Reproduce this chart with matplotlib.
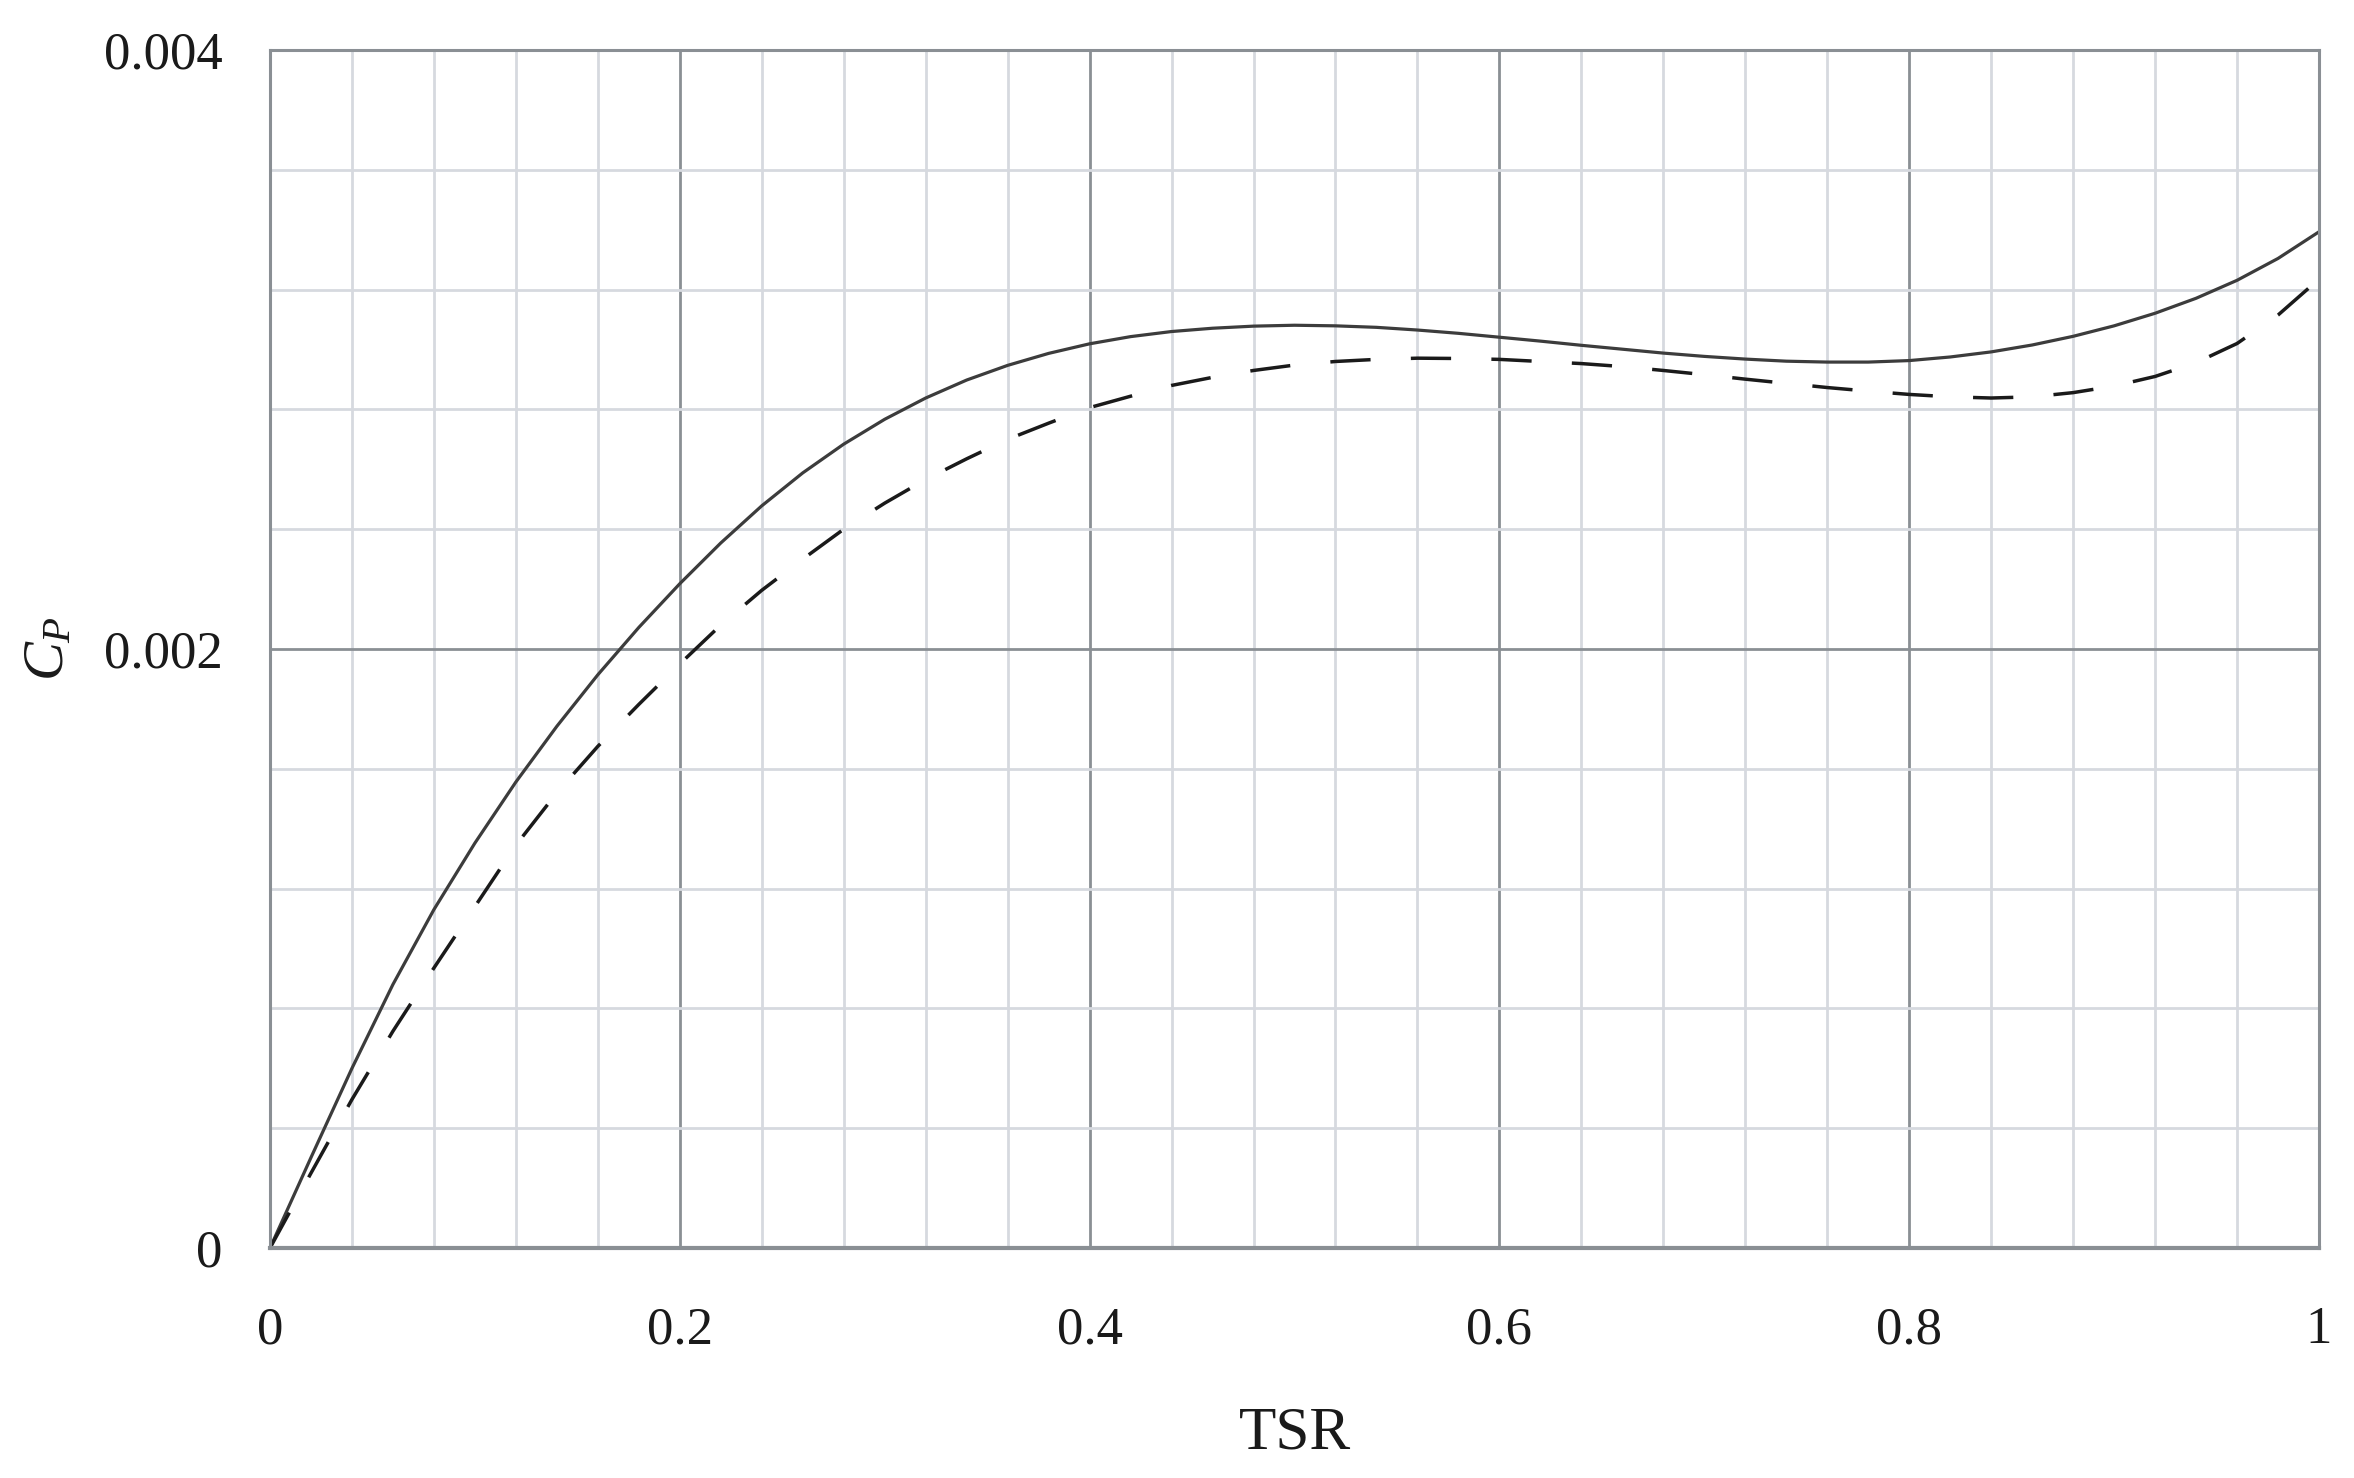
import matplotlib
matplotlib.use("Agg")
import matplotlib.pyplot as plt
from matplotlib.ticker import MultipleLocator

# ---- data ----
tsr = [0.00, 0.02, 0.04, 0.06, 0.08, 0.10, 0.12, 0.14, 0.16, 0.18,
       0.20, 0.22, 0.24, 0.26, 0.28, 0.30, 0.32, 0.34, 0.36, 0.38,
       0.40, 0.42, 0.44, 0.46, 0.48, 0.50, 0.52, 0.54, 0.56, 0.58,
       0.60, 0.62, 0.64, 0.66, 0.68, 0.70, 0.72, 0.74, 0.76, 0.78,
       0.80, 0.82, 0.84, 0.86, 0.88, 0.90, 0.92, 0.94, 0.96, 0.98, 1.00]

cp_solid = [0.0, 0.000302, 0.000600, 0.000880, 0.001130, 0.001352, 0.001556, 0.001742, 0.001914, 0.002072,
            0.002218, 0.002354, 0.002478, 0.002588, 0.002684, 0.002767, 0.002838, 0.002898, 0.002947, 0.002987,
            0.003019, 0.003043, 0.003060, 0.003071, 0.003078, 0.003081, 0.003079, 0.003074, 0.003065, 0.003054,
            0.003041, 0.003028, 0.003014, 0.003001, 0.002988, 0.002977, 0.002968, 0.002961, 0.002958, 0.002958,
            0.002963, 0.002975, 0.002992, 0.003015, 0.003044, 0.003079, 0.003121, 0.003171, 0.003231, 0.003304, 0.003393]

cp_dashed = [0.0, 0.000250, 0.000496, 0.000724, 0.000935, 0.001140, 0.001345, 0.001520, 0.001675, 0.001815,
             0.001950, 0.002080, 0.002196, 0.002300, 0.002400, 0.002487, 0.002566, 0.002635, 0.002700, 0.002754,
             0.002806, 0.002844, 0.002880, 0.002907, 0.002930, 0.002948, 0.002960, 0.002967, 0.002971, 0.002970,
             0.002967, 0.002960, 0.002953, 0.002943, 0.002930, 0.002916, 0.002901, 0.002887, 0.002873, 0.002861,
             0.002850, 0.002842, 0.002838, 0.002842, 0.002856, 0.002878, 0.002910, 0.002956, 0.003020, 0.003115, 0.003235]

x_ticks = [0, 0.2, 0.4, 0.6, 0.8, 1]
x_tick_labels = ["0", "0.2", "0.4", "0.6", "0.8", "1"]
y_ticks = [0, 0.002, 0.004]
y_tick_labels = ["0", "0.002", "0.004"]

# ---- style ----
plt.rcParams['font.family'] = ['Liberation Serif', 'DejaVu Serif']
plt.rcParams['mathtext.fontset'] = 'custom'
plt.rcParams['mathtext.rm'] = 'Liberation Serif'
plt.rcParams['mathtext.it'] = 'Liberation Serif:italic'
plt.rcParams['lines.scale_dashes'] = False

W, H = 2354, 1478
fig = plt.figure(figsize=(W / 100, H / 100), dpi=100)
L, R, T, B = 270, 2319, 50, 1248
ax = fig.add_axes([L / W, 1 - B / H, (R - L) / W, (B - T) / H])

major_c = '#8a8f94'
minor_c = '#d6d9df'

ax.set_xlim(0, 1)
ax.set_ylim(0, 0.004)
ax.xaxis.set_minor_locator(MultipleLocator(0.04))
ax.yaxis.set_minor_locator(MultipleLocator(0.0004))
ax.set_xticks(x_ticks)
ax.set_xticklabels(x_tick_labels)
ax.set_yticks(y_ticks)
ax.set_yticklabels(y_tick_labels)

ax.grid(which='minor', color=minor_c, linewidth=2.0)
ax.grid(which='major', color=major_c, linewidth=2.0)
ax.set_axisbelow(True)
for s in ax.spines.values():
    s.set_color(major_c)
    s.set_linewidth(2.2)
ax.spines['bottom'].set_linewidth(3.0)

ax.tick_params(which='both', length=0)
ax.tick_params(axis='y', pad=34, labelsize=38, labelcolor='#1a1a1a')
ax.tick_params(axis='x', pad=42, labelsize=38, labelcolor='#1a1a1a')

ax.plot(tsr, cp_solid, color='#3c3c3c', linewidth=2.3, solid_joinstyle='round')
ax.plot(tsr, cp_dashed, color='#1a1a1a', linewidth=2.5, linestyle=(0, (29, 29)),
        dash_joinstyle='round')

ax.set_xlabel('TSR', fontsize=44, color='#1a1a1a')
ax.xaxis.set_label_coords(0.5, -0.132)
ax.set_ylabel(r'$C_P$', fontsize=42, color='#1a1a1a')
ax.yaxis.set_label_coords(-0.095, 0.5)

fig.savefig('out.png', dpi=100, facecolor='white')
